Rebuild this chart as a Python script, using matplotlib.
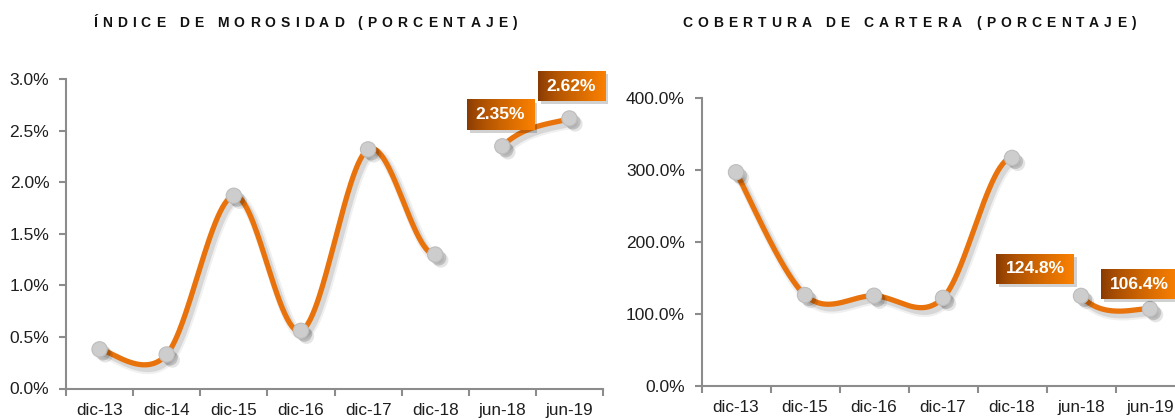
import numpy as np
import matplotlib
matplotlib.use("Agg")
import matplotlib.pyplot as plt
import matplotlib.patheffects as pe
from matplotlib.font_manager import FontProperties
from matplotlib.patches import Rectangle

# ---------------- data ----------------
cats_left = ["dic-13", "dic-14", "dic-15", "dic-16", "dic-17", "dic-18", "jun-18", "jun-19"]
vals_left = [0.38, 0.33, 1.87, 0.56, 2.32, 1.30, 2.35, 2.62]          # %
gap_left = 5            # no line drawn between dic-18 and jun-18
labels_left = {6: "2.35%", 7: "2.62%"}

cats_right = ["dic-13", "dic-15", "dic-16", "dic-17", "dic-18", "jun-18", "jun-19"]
vals_right = [297.0, 126.0, 125.0, 122.0, 317.0, 124.8, 106.4]        # %
gap_right = 4           # no line drawn between dic-18 and jun-18
labels_right = {5: "124.8%", 6: "106.4%"}

title_left = "ÍNDICE DE MOROSIDAD (PORCENTAJE)"
title_right = "COBERTURA DE CARTERA (PORCENTAJE)"

# ---------------- style ----------------
W, H = 1175, 420
DPI = 100
FONT = "Liberation Sans"
ORANGE = "#E8730D"
AXIS_GRAY = "#8C8C8C"
TXT = "#1E1E1E"

plt.rcParams["font.family"] = [FONT, "DejaVu Sans"]

fig = plt.figure(figsize=(W / DPI, H / DPI), dpi=DPI)
fig.patch.set_facecolor("white")
renderer = fig.canvas.get_renderer()


def px_axes(x0, y_top, x1, y_bot):
    return fig.add_axes([x0 / W, (H - y_bot) / H, (x1 - x0) / W, (y_bot - y_top) / H])


def spaced_title(x_left, x_right, y_base, s, size):
    prop = FontProperties(family=FONT, weight="bold", size=size)
    widths = [renderer.get_text_width_height_descent(ch, prop, ismath=False)[0] for ch in s]
    spacing = ((x_right - x_left) - sum(widths)) / (len(s) - 1)
    x = x_left
    for ch, w in zip(s, widths):
        fig.text(x / W, (H - y_base) / H, ch, fontproperties=prop, color="#111111",
                 ha="left", va="baseline")
        x += w + spacing


def smooth_run(i0, i1, allx, ally, n=60):
    """Cubic Bezier (Catmull-Rom style) through points i0..i1; tangents use
    the neighbouring points of the whole series."""
    N = len(allx)
    out_x, out_y = [], []
    for k in range(i0, i1):
        p0 = np.array([allx[max(k - 1, 0)], ally[max(k - 1, 0)]])
        p1 = np.array([allx[k], ally[k]])
        p2 = np.array([allx[k + 1], ally[k + 1]])
        p3 = np.array([allx[min(k + 2, N - 1)], ally[min(k + 2, N - 1)]])
        c1 = p1 + (p2 - p0) / 6.0
        c2 = p2 - (p3 - p1) / 6.0
        t = np.linspace(0, 1, n)[:, None]
        b = ((1 - t) ** 3) * p1 + 3 * ((1 - t) ** 2) * t * c1 + 3 * (1 - t) * t ** 2 * c2 + t ** 3 * p2
        out_x.extend(b[:, 0]); out_y.extend(b[:, 1])
    return np.array(out_x), np.array(out_y)


line_fx = [
    pe.SimpleLineShadow(offset=(2.5, -3), shadow_color="k", alpha=0.06, linewidth=7.5),
    pe.SimpleLineShadow(offset=(2.5, -3), shadow_color="k", alpha=0.10, linewidth=4.5),
    pe.Normal(),
]
marker_fx = [
    pe.SimplePatchShadow(offset=(4, -4), shadow_rgbFace="k", alpha=0.10),
    pe.SimplePatchShadow(offset=(2.5, -2.5), shadow_rgbFace="k", alpha=0.16),
    pe.Normal(),
]

grad = np.linspace(0, 1, 64) ** 0.75
c_dark = np.array([135, 58, 4]) / 255
c_light = np.array([250, 128, 0]) / 255
grad_img = (c_dark[None, :] * (1 - grad[:, None]) + c_light[None, :] * grad[:, None])[None, :, :]


def data_label(ax, x, y, text, dx, dy, xlim, ylim):
    prop = FontProperties(family=FONT, weight="bold", size=12.5)
    tw = renderer.get_text_width_height_descent(text, prop, ismath=False)[0]
    bw, bh = tw + 18, 30
    px, py = ax.transData.transform((x, y))
    cx, cy = px + dx, py - dy
    inv = ax.transData.inverted()
    (x0, y0) = inv.transform((cx - bw / 2, cy - bh / 2))
    (x1, y1) = inv.transform((cx + bw / 2, cy + bh / 2))
    (sx0, sy0) = inv.transform((cx - bw / 2 + 3, cy - bh / 2 - 3))
    (sx1, sy1) = inv.transform((cx + bw / 2 + 3, cy + bh / 2 - 3))
    ax.add_patch(Rectangle((sx0, sy0), sx1 - sx0, sy1 - sy0, facecolor="k", alpha=0.18,
                           edgecolor="none", zorder=5, clip_on=False, linewidth=0))
    ax.imshow(grad_img, extent=[x0, x1, y0, y1], aspect="auto", zorder=6,
              clip_on=False, interpolation="bilinear")
    ax.text((x0 + x1) / 2, (y0 + y1) / 2, text, fontproperties=prop, color="white",
            ha="center", va="center", zorder=7, clip_on=False)
    ax.set_xlim(*xlim); ax.set_ylim(*ylim)


def make_chart(ax, cats, vals, gap, labels, ymax, ystep, yfmt, label_offsets):
    n = len(cats)
    xs = np.arange(n) + 0.5
    xlim = (0, n); ylim = (0, ymax)
    ax.set_xlim(*xlim); ax.set_ylim(*ylim)
    ax.set_autoscale_on(False)
    for sp in ["top", "right"]:
        ax.spines[sp].set_visible(False)
    for sp in ["left", "bottom"]:
        ax.spines[sp].set_color(AXIS_GRAY)
        ax.spines[sp].set_linewidth(1.5)
    yt = np.arange(0, ymax + ystep / 2, ystep)
    ax.set_yticks(yt)
    ax.set_yticklabels([yfmt(v) for v in yt])
    ax.set_xticks(np.arange(n + 1))
    ax.set_xticklabels([])
    ax.set_xticks(xs, minor=True)
    ax.set_xticklabels(cats, minor=True)
    ax.tick_params(axis="x", which="major", length=5, width=1.5, color=AXIS_GRAY, direction="out")
    ax.tick_params(axis="x", which="minor", length=0, pad=10.5, labelsize=12.3, labelcolor=TXT)
    ax.tick_params(axis="y", length=5, width=1.5, color=AXIS_GRAY, direction="out",
                   pad=7, labelsize=12.5, labelcolor=TXT)

    runs = [(0, gap), (gap + 1, n - 1)]
    for a, b in runs:
        sx, sy = smooth_run(a, b, xs, vals)
        ax.plot(sx, sy, color=ORANGE, lw=3.8, solid_capstyle="round", zorder=3,
                path_effects=line_fx, clip_on=False)
    ax.plot(xs, vals, ls="none", marker="o", ms=11, mfc="#CDCDCD", mec="#BDBDBD",
            mew=0.8, zorder=4, path_effects=marker_fx, clip_on=False)
    for i, t in labels.items():
        dx, dy = label_offsets[i]
        data_label(ax, xs[i], vals[i], t, dx, dy, xlim, ylim)


ax1 = px_axes(66, 79.3, 603, 388.5)
make_chart(ax1, cats_left, vals_left, gap_left, labels_left, 3.0, 0.5,
           lambda v: f"{v:.1f}%", {6: (-2, -31.5), 7: (2, -32)})

ax2 = px_axes(701.5, 98.3, 701.5 + 69 * 7, 385.5)
make_chart(ax2, cats_right, vals_right, gap_right, labels_right, 400.0, 100.0,
           lambda v: f"{v:.1f}%", {5: (-46, -27), 6: (-11, -25)})

spaced_title(93, 517, 27.3, title_left, 10)
spaced_title(682, 1136, 27.3, title_right, 10)

fig.savefig("out.png", dpi=DPI, facecolor="white")
